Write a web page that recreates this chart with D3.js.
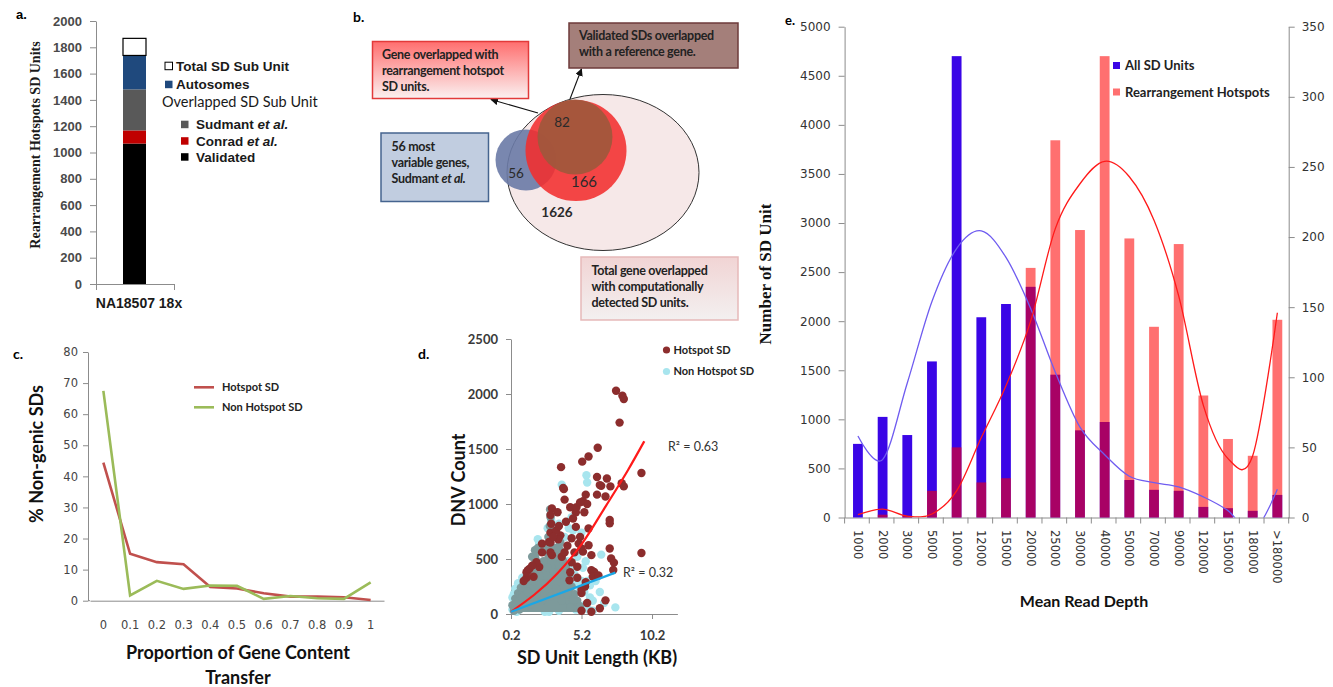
<!DOCTYPE html>
<html>
<head>
<meta charset="utf-8">
<script src="https://cdn.jsdelivr.net/npm/d3@7"></script>
<style>
  body { margin: 0; background: #fff; }
  svg { display: block; font-family: Lato, sans-serif; }
</style>
</head>
<body>
<svg width="1333" height="687"></svg>
<script>
var svg = d3.select("svg");

// ---- panel a data
var sampleNames = ["NA18507 18x"];
var stackLabels = ["Validated", "Conrad et al.", "Sudmant et al.", "Autosomes", "Total SD Sub Unit"];
var stackValues = [1068, 100, 312, 258, 130];
var stackColors = ["#000000", "#c00000", "#595959", "#1f497d", "#ffffff"];

// ---- panel b data
var vennCounts = [82, 56, 166, 1626];

// ---- panel c data
var transferCats = ["0", "0.1", "0.2", "0.3", "0.4", "0.5", "0.6", "0.7", "0.8", "0.9", "1"];
var hotspotPct = [44.4, 15.1, 12.4, 11.7, 4.4, 3.9, 2.4, 1.3, 1.3, 1.1, 0.2];
var nonHotspotPct = [67.5, 1.7, 6.4, 3.8, 4.9, 4.8, 0.6, 1.5, 0.8, 0.6, 5.9];

// ---- panel d data (SD unit length KB, DNV count)
var hotspotPts = [[7.65,2030],[8.1,1985],[8.2,1955],[7.9,1740],[6.35,1512],[5.7,1432],[5.25,1385],[3.75,1335],
  [9.45,1282],[8.05,1188],[6.3,1245],[7.0,1232],[7.25,1160],[8.2,1160],[6.6,1165],[3.9,1145],[3.95,1135],
  [6.3,1085],[6.9,1068],[5.5,1085],[5.3,1025],[5.6,1000],[4.8,925],[5.4,925],[4.0,1040],[3.1,960],[4.1,838],
  [4.8,792],[5.7,778],[5.7,625],[5.2,595],[4.5,688],[3.7,715],[2.9,655],[2.4,640],[3.1,535],[3.8,520],[5.9,535],
  [7.2,595],[7.3,505],[5.9,398],[6.1,383],[6.9,124],[5.9,20],[5.2,190],[5.45,250],[9.45,555],[1.4,398],[1.8,338],
  [2.2,428],[4.35,306],[4.6,868],[3.5,925],[4.4,970],[4.85,972],[5.1,1015],[7.2,855],[7.2,825],[6.5,1172],
  [5.3,567],[6.0,340],[6.4,350],[5.2,220],[6.5,52],[5.2,30],[7.45,400],[7.5,467],[3.0,560],[3.0,650],
  [3.0,740],[3.05,820],[3.0,900],[3.55,680],[4.0,560],[4.2,620],[4.5,470],[4.9,430],[5.0,640],
  [5.1,700],[4.7,560],[2.0,470],[1.3,330],[1.1,300],[4.4,380],
  [4.9,330],[5.5,290],[5.6,100],[1.3,380],[1.5,410],[1.7,440],[2.4,560],
  [3.4,760],[3.6,800],[3.2,700]];
var nonHotspotPts = [[5.55,1262],[5.6,1195],[3.8,1175],[3.0,900],[3.05,850],[3.1,790],[4.5,880],[4.3,780],
  [4.6,760],[3.6,820],[5.2,740],[6.6,540],[7.6,60],[4.0,700],[5.5,480],[5.3,420],[4.9,520],[4.2,480],[6.2,300],
  [6.5,200],[5.8,150],[5.4,80],[4.8,40],[6.0,30],[3.6,30],[2.6,20],[3.2,120],[4.0,250],[4.6,300],[3.9,150],
  [2.8,350],[2.5,320],[1.2,60],[0.8,120],[0.5,80],[0.4,180],[1.0,250],[1.7,110],[2.2,60],[3.4,280],[4.3,90],
  [5.0,200],[5.2,300],[6.8,100],[2.0,300],[1.5,220],[0.3,40],[0.6,20],[2.9,20],[4.4,180],[0.3,150],[0.5,230],
  [0.7,280],[1.0,330],[5.4,200],[5.6,300],[5.8,260],[6.0,120],[5.7,40],[4.9,280],[4.7,360],[4.4,420],[2.2,640],
  [2.6,600],[2.8,780],[2.1,680]];
// dense overlapping cloud near the origin: upper edge of the cloud
var denseEdge = [[0.2,0],[0.3,80],[0.5,140],[0.7,190],[0.9,240],[1.1,280],[1.3,320],[1.5,400],[1.7,520],
  [1.9,580],[2.1,600],[2.3,450],[2.5,480],[2.7,600],[2.85,700],[2.97,950],[3.1,720],[3.3,600],[3.5,700],
  [3.7,650],[3.9,560],[4.1,420],[4.3,350],[4.5,250],[4.7,180],[4.9,120],[5.1,70],[5.2,0]];
var densePts = [[0.4,30],[0.6,90],[0.8,40],[1.0,150],[1.2,60],[1.4,200],[1.6,90],[1.8,300],[2.0,180],
  [2.2,350],[2.4,120],[2.6,280],[2.8,420],[3.0,160],[3.2,380],[3.4,230],[3.6,450],[3.8,120],[4.0,300],
  [4.2,180],[4.4,60],[4.6,130],[2.95,800],[3.0,880],[3.6,600],[3.9,480]];
var hotspotFit = [[0.2,20],[3.5,370],[5.25,642],[6.9,976],[8.5,1309],[9.65,1570]];
var nonHotspotFit = [[0.2,20],[7.6,376]];
var rsqLabels = ["R\u00b2 = 0.63", "R\u00b2 = 0.32"];

// ---- panel e data
var depthCats = ["1000","2000","3000","5000","10000","12000","15000","20000","25000","30000","40000",
  "50000","70000","90000","120000","150000","180000",">180000"];
var allSdUnits = [750, 1025, 840, 1590, 4700, 2040, 2175, 2350, 1455, 888, 973, 382, 282, 272, 108, 95, 68, 230];
var hotspotUnits = [0, 2, 1, 19, 50, 25, 28, 178, 269, 205, 329, 199, 136, 195, 87, 56, 44, 141];
var allSdSmooth = [830, 590, 1370, 2200, 2740, 2920, 2650, 2130, 1480, 920, 640, 420, 355, 312, 210, 70, -150, 287];
var hotspotSmooth = [2, 6, 1, 2.5, 19, 57, 94, 140, 206, 238, 254, 243, 212, 158, 80, 42, 44, 146];

function styleAxis(g, color, font, size, weight, fill) {
  g.select(".domain").attr("stroke", color);
  g.selectAll(".tick line").attr("stroke", color);
  g.selectAll(".tick text").attr("font-family", font).attr("font-size", size)
    .attr("font-weight", weight).attr("fill", fill);
}

function etAl(sel, label) {
  var i = label.indexOf("et al.");
  if (i < 0) { sel.text(label); return; }
  sel.append("tspan").text(label.slice(0, i));
  sel.append("tspan").attr("font-style", "italic").text("et al.");
}

var defs = svg.append("defs");
var intFmt = d3.format("d");

// ================= panel a =================
var pa = svg.append("g");
var ay = d3.scaleLinear().domain([0, 2000]).range([284, 21]);
var ax = d3.scaleBand().domain(sampleNames).range([96, 174]);

pa.append("g").attr("transform", "translate(96,0)")
  .call(d3.axisLeft(ay).tickValues(d3.range(0, 2001, 200)).tickFormat(intFmt).tickSize(6).tickPadding(8).tickSizeOuter(0))
  .call(styleAxis, "#8c8c8c", "Liberation Sans", 13, "bold", "#4a4a4a");
pa.append("g").attr("transform", "translate(0,284)")
  .call(d3.axisBottom(d3.scaleLinear().domain([0, 1]).range([96, 174])).tickValues([0, 1]).tickFormat("").tickSize(6).tickSizeOuter(0))
  .call(styleAxis, "#8c8c8c", "Liberation Sans", 13, "bold", "#4a4a4a");

var cum = d3.cumsum(stackValues);
var barX = ax(sampleNames[0]) + ax.bandwidth() / 2 - 12;
pa.selectAll("rect.stk").data(stackValues).join("rect")
  .attr("class", "stk")
  .attr("x", barX).attr("width", 23)
  .attr("y", function(d, i) { return ay(cum[i]); })
  .attr("height", function(d, i) { return ay(cum[i] - d) - ay(cum[i]); })
  .attr("fill", function(d, i) { return stackColors[i]; })
  .attr("stroke", function(d, i) { return i == 4 ? "#000" : "none"; })
  .attr("stroke-width", 1.2);

pa.append("text").attr("x", ax(sampleNames[0]) + ax.bandwidth() / 2 + 4).attr("y", 303)
  .attr("dy", "0.35em").attr("text-anchor", "middle")
  .attr("font-family", "Liberation Sans").attr("font-weight", "bold").attr("font-size", 14).attr("fill", "#1a1a1a")
  .text(sampleNames[0]);

pa.append("text").attr("transform", "translate(35,145) rotate(-90)")
  .attr("text-anchor", "middle").attr("dy", "0.35em")
  .attr("font-family", "Liberation Serif").attr("font-weight", "bold").attr("font-size", 14).attr("fill", "#1a1a1a")
  .text("Rearrangement Hotspots SD Units");

pa.append("text").attr("x", 16).attr("y", 14).attr("dy", "0.35em")
  .attr("font-family", "Liberation Sans").attr("font-weight", "bold").attr("font-size", 13).text("a.");

// legend a
var legA = [
  { i: 4, x: 165, y: 66 },
  { i: 3, x: 165, y: 84.5 },
  { i: 2, x: 181, y: 124.5 },
  { i: 1, x: 181, y: 141 },
  { i: 0, x: 181, y: 157 }
];
legA.forEach(function(o) {
  pa.append("rect").attr("x", o.x).attr("y", o.y - 3.8).attr("width", 7.5).attr("height", 7.5)
    .attr("fill", stackColors[o.i]).attr("stroke", o.i == 4 ? "#000" : "none").attr("stroke-width", 1);
  var t = pa.append("text").attr("x", o.x + (o.i >= 3 ? 11 : 15)).attr("y", o.y).attr("dy", "0.35em")
    .attr("font-family", "Liberation Sans").attr("font-size", 13.5).attr("font-weight", "bold").attr("fill", "#1a1a1a");
  etAl(t, stackLabels[o.i]);
});
pa.append("text").attr("x", 162).attr("y", 102).attr("dy", "0.35em")
  .attr("font-size", 14.5).attr("fill", "#1a1a1a").text("Overlapped SD Sub Unit");

// ================= panel b =================
var pb = svg.append("g");
var gr1 = defs.append("linearGradient").attr("id", "gRed").attr("x1", 0).attr("y1", 0).attr("x2", 0).attr("y2", 1);
gr1.append("stop").attr("offset", "0%").attr("stop-color", "#ff6e6e");
gr1.append("stop").attr("offset", "100%").attr("stop-color", "#fbf1f1");
var gr2 = defs.append("linearGradient").attr("id", "gPink").attr("x1", 0).attr("y1", 0).attr("x2", 0).attr("y2", 1);
gr2.append("stop").attr("offset", "0%").attr("stop-color", "#f1d4d4");
gr2.append("stop").attr("offset", "100%").attr("stop-color", "#f3f0f0");
defs.append("marker").attr("id", "arr").attr("viewBox", "0 0 10 10").attr("refX", 9).attr("refY", 5)
  .attr("markerWidth", 7).attr("markerHeight", 7).attr("orient", "auto-start-reverse")
  .append("path").attr("d", "M0,0L10,5L0,10z").attr("fill", "#111");

pb.append("text").attr("x", 353).attr("y", 17).attr("dy", "0.35em")
  .attr("font-weight", "bold").attr("font-size", 14).text("b.");

pb.append("ellipse").attr("cx", 603).attr("cy", 172.5).attr("rx", 96).attr("ry", 78)
  .attr("fill", "#f6e8e8").attr("stroke", "#333").attr("stroke-width", 1);
pb.append("circle").attr("cx", 526).attr("cy", 160).attr("r", 30.5)
  .attr("fill", "#6a7aa6").attr("fill-opacity", 0.9);
pb.append("circle").attr("cx", 576).attr("cy", 150.5).attr("r", 50.5)
  .attr("fill", "#f22e2e").attr("fill-opacity", 0.88);
pb.append("circle").attr("cx", 575).attr("cy", 137).attr("r", 37.5)
  .attr("fill", "#a0583c").attr("fill-opacity", 0.92);

var vennPos = [[562, 122], [516, 173], [584, 182], [557, 212]];
pb.selectAll("text.vc").data(vennCounts).join("text").attr("class", "vc")
  .attr("x", function(d, i) { return vennPos[i][0]; })
  .attr("y", function(d, i) { return vennPos[i][1]; })
  .attr("dy", "0.35em").attr("text-anchor", "middle")
  .attr("font-size", function(d, i) { return i == 2 ? 15 : 13.5; })
  .attr("font-weight", function(d, i) { return i == 3 ? "bold" : "normal"; })
  .attr("fill", "#2a2a2a")
  .text(function(d) { return d; });

pb.append("line").attr("x1", 538).attr("y1", 113).attr("x2", 491).attr("y2", 99.5)
  .attr("stroke", "#111").attr("stroke-width", 1.1).attr("marker-end", "url(#arr)");
pb.append("line").attr("x1", 570).attr("y1", 99).attr("x2", 581.5).attr("y2", 69)
  .attr("stroke", "#111").attr("stroke-width", 1.1).attr("marker-end", "url(#arr)");

var boxes = [
  { x: 372.5, y: 41.5, w: 156, h: 57, fill: "url(#gRed)", stroke: "#e23a3a", tx: 382, ty: 55,
    lines: ["Gene overlapped  with", "rearrangement hotspot", "SD units."] },
  { x: 569, y: 23, w: 169, h: 45, fill: "#a47f7a", stroke: "#6e3b3b", tx: 579, ty: 36,
    lines: ["Validated SDs overlapped", "with a reference gene."] },
  { x: 381, y: 133, w: 107.5, h: 68.5, fill: "#c1cde0", stroke: "#45648f", tx: 391.5, ty: 147,
    lines: ["56 most", "variable genes,", "Sudmant et al."] },
  { x: 581, y: 257, w: 157, h: 63, fill: "url(#gPink)", stroke: "#e6b9b9", tx: 591.5, ty: 271,
    lines: ["Total gene overlapped", "with computationally", "detected SD units."] }
];
boxes.forEach(function(b) {
  pb.append("rect").attr("x", b.x).attr("y", b.y).attr("width", b.w).attr("height", b.h)
    .attr("fill", b.fill).attr("stroke", b.stroke).attr("stroke-width", 1.5);
  b.lines.forEach(function(l, k) {
    var t = pb.append("text").attr("x", b.tx).attr("y", b.ty + k * 16).attr("dy", "0.35em")
      .attr("font-size", 12.5).attr("font-weight", "bold").attr("fill", "#222").attr("letter-spacing", -0.3);
    etAl(t, l);
  });
});

// ================= panel c =================
var pc = svg.append("g");
var cx = d3.scaleBand().domain(transferCats).range([90, 384]);
var cy = d3.scaleLinear().domain([0, 80]).range([600.7, 352]);
pc.append("g").attr("transform", "translate(88,0)")
  .call(d3.axisLeft(cy).tickValues(d3.range(0, 81, 10)).tickSize(5).tickPadding(5).tickSizeOuter(0))
  .call(styleAxis, "#8c8c8c", "DejaVu Sans", 11.5, "normal", "#444");
pc.append("g").attr("transform", "translate(0,600.7)")
  .call(d3.axisBottom(cx).tickSize(0).tickPadding(20).tickSizeOuter(0))
  .call(styleAxis, "#8c8c8c", "DejaVu Sans", 11.5, "normal", "#444");
pc.append("line").attr("x1", 88).attr("x2", 90).attr("y1", 600.7).attr("y2", 600.7).attr("stroke", "#8c8c8c");

var cline = d3.line()
  .x(function(d, i) { return cx(transferCats[i]) + cx.bandwidth() / 2; })
  .y(function(d) { return cy(d); });
pc.append("path").attr("d", cline(hotspotPct)).attr("fill", "none").attr("stroke", "#c0504d").attr("stroke-width", 2.6);
pc.append("path").attr("d", cline(nonHotspotPct)).attr("fill", "none").attr("stroke", "#9bbb59").attr("stroke-width", 2.6);

[["Hotspot SD", "#c0504d", 387.3], ["Non Hotspot SD", "#9bbb59", 407.3]].forEach(function(l) {
  pc.append("line").attr("x1", 194).attr("x2", 214).attr("y1", l[2]).attr("y2", l[2])
    .attr("stroke", l[1]).attr("stroke-width", 2.6);
  pc.append("text").attr("x", 222).attr("y", l[2]).attr("dy", "0.35em")
    .attr("font-size", 11).attr("font-weight", "bold").attr("fill", "#222").text(l[0]);
});

pc.append("text").attr("transform", "translate(37,454) rotate(-90)").attr("text-anchor", "middle").attr("dy", "0.35em")
  .attr("font-size", 18).attr("font-weight", "bold").attr("fill", "#111").text("% Non-genic SDs");
pc.append("text").attr("x", 238).attr("y", 653).attr("text-anchor", "middle").attr("dy", "0.35em")
  .attr("font-size", 18).attr("font-weight", "bold").attr("fill", "#111").text("Proportion of Gene Content");
pc.append("text").attr("x", 238).attr("y", 678).attr("text-anchor", "middle").attr("dy", "0.35em")
  .attr("font-size", 18).attr("font-weight", "bold").attr("fill", "#111").text("Transfer");
pc.append("text").attr("x", 13).attr("y", 354).attr("dy", "0.35em")
  .attr("font-weight", "bold").attr("font-size", 14).text("c.");

// ================= panel d =================
var pd = svg.append("g");
var dx = d3.scaleLinear().domain([0.2, 12]).range([511, 677.4]);
var dy = d3.scaleLinear().domain([0, 2500]).range([614, 339]);
pd.append("g").attr("transform", "translate(511,0)")
  .call(d3.axisLeft(dy).tickValues(d3.range(0, 2501, 500)).tickFormat(intFmt).tickSize(5).tickPadding(8).tickSizeOuter(0))
  .call(styleAxis, "#8c8c8c", "Lato", 13, "bold", "#3a3a3a");
pd.append("g").attr("transform", "translate(0,614)")
  .call(d3.axisBottom(dx).tickValues([0.2, 5.2, 10.2]).tickFormat(d3.format(".1f")).tickSize(5).tickPadding(12).tickSizeOuter(0))
  .call(styleAxis, "#8c8c8c", "Lato", 13, "bold", "#3a3a3a");

function dots(pts, color, r) {
  pd.append("g").selectAll("circle").data(pts).join("circle")
    .attr("cx", function(d) { return dx(d[0]); })
    .attr("cy", function(d) { return dy(d[1]); })
    .attr("r", r).attr("fill", color);
}
dots(nonHotspotPts, "#a8e5ee", 4.2);
pd.append("path")
  .attr("d", d3.area().x(function(d) { return dx(d[0]); }).y0(dy(0) - 2).y1(function(d) { return dy(d[1]); })(denseEdge))
  .attr("fill", "#7d9a9b");
dots(denseEdge.slice(1, -1), "#7d9a9b", 4.2);
dots(densePts, "#7d9a9b", 4.2);
dots(hotspotPts, "#8c2d2d", 4.2);

var fitLine = d3.line().x(function(d) { return dx(d[0]); }).y(function(d) { return dy(d[1]); }).curve(d3.curveMonotoneX);
pd.append("path").attr("d", fitLine(hotspotFit)).attr("fill", "none").attr("stroke", "#ff1a1a").attr("stroke-width", 2.2);
pd.append("path").attr("d", fitLine(nonHotspotFit)).attr("fill", "none").attr("stroke", "#1aa7e6").attr("stroke-width", 2.2);

pd.append("text").attr("x", 668).attr("y", 447).attr("dy", "0.35em").attr("font-size", 12.5).attr("fill", "#333").text(rsqLabels[0]);
pd.append("text").attr("x", 623).attr("y", 573).attr("dy", "0.35em").attr("font-size", 12.5).attr("fill", "#333").text(rsqLabels[1]);

[["Hotspot SD", "#8c2d2d", 350], ["Non Hotspot SD", "#a8e5ee", 371.5]].forEach(function(l) {
  pd.append("circle").attr("cx", 666.5).attr("cy", l[2]).attr("r", 3.6).attr("fill", l[1]);
  pd.append("text").attr("x", 673.5).attr("y", l[2]).attr("dy", "0.35em")
    .attr("font-size", 11).attr("font-weight", "bold").attr("fill", "#222").text(l[0]);
});
pd.append("text").attr("transform", "translate(459,480) rotate(-90)").attr("text-anchor", "middle").attr("dy", "0.35em")
  .attr("font-size", 18).attr("font-weight", "bold").attr("fill", "#111").text("DNV Count");
pd.append("text").attr("x", 597).attr("y", 658).attr("text-anchor", "middle").attr("dy", "0.35em")
  .attr("font-size", 18).attr("font-weight", "bold").attr("fill", "#111").text("SD Unit Length (KB)");
pd.append("text").attr("x", 418).attr("y", 354).attr("dy", "0.35em")
  .attr("font-weight", "bold").attr("font-size", 14).text("d.");

// ================= panel e =================
var pe = svg.append("g");
var ex = d3.scaleBand().domain(depthCats).range([844.6, 1288.7]);
var eyL = d3.scaleLinear().domain([0, 5000]).range([517.5, 26.7]);
var eyR = d3.scaleLinear().domain([0, 350]).range([517.5, 26.7]);

pe.append("g").attr("transform", "translate(844.6,0)")
  .call(d3.axisLeft(eyL).tickValues(d3.range(0, 5001, 500)).tickFormat(intFmt).tickSize(6).tickPadding(8).tickSizeOuter(0))
  .call(styleAxis, "#8c8c8c", "DejaVu Sans", 12, "normal", "#333");
pe.append("g").attr("transform", "translate(1288.7,0)")
  .call(d3.axisRight(eyR).tickValues(d3.range(0, 351, 50)).tickFormat(intFmt).tickSize(6).tickPadding(7).tickSizeOuter(0))
  .call(styleAxis, "#8c8c8c", "DejaVu Sans", 12, "normal", "#333");
pe.append("g").attr("transform", "translate(0,517.5)")
  .call(d3.axisBottom(ex).tickSize(0).tickFormat("").tickSizeOuter(0))
  .call(styleAxis, "#8c8c8c", "DejaVu Sans", 11.5, "normal", "#333");
// tick marks at band boundaries
pe.append("g").selectAll("line").data(depthCats.concat(["end"])).join("line")
  .attr("x1", function(d, i) { return ex.range()[0] + i * ex.step(); })
  .attr("x2", function(d, i) { return ex.range()[0] + i * ex.step(); })
  .attr("y1", 517.5).attr("y2", 523.5).attr("stroke", "#8c8c8c");
pe.append("g").selectAll("text").data(depthCats).join("text")
  .attr("transform", function(d) { return "translate(" + (ex(d) + ex.bandwidth() / 2 + 1) + ",530) rotate(90)"; })
  .attr("dy", "0.35em").attr("font-family", "DejaVu Sans").attr("font-size", 11.5).attr("fill", "#333")
  .text(function(d) { return d; });

var bw = 9.8;
function bx(d) { return ex(d) + ex.bandwidth() / 2 - bw / 2 + 1; }
pe.append("g").selectAll("rect").data(allSdUnits).join("rect")
  .attr("x", function(d, i) { return bx(depthCats[i]); }).attr("width", bw)
  .attr("y", function(d) { return eyL(d); }).attr("height", function(d) { return eyL(0) - eyL(d); })
  .attr("fill", "#3a05e6");
pe.append("g").selectAll("rect").data(hotspotUnits).join("rect")
  .attr("x", function(d, i) { return bx(depthCats[i]); }).attr("width", bw)
  .attr("y", function(d) { return eyR(d); }).attr("height", function(d) { return eyR(0) - eyR(d); })
  .attr("fill", "#ff0000").attr("fill-opacity", 0.56);

defs.append("clipPath").attr("id", "clipE").append("rect")
  .attr("x", 844.6).attr("y", 20).attr("width", 444.1).attr("height", 497.5);
var ecx = function(d, i) { return ex(depthCats[i]) + ex.bandwidth() / 2 + 1; };
pe.append("path").attr("clip-path", "url(#clipE)")
  .attr("d", d3.line().x(ecx).y(function(d) { return eyL(d); }).curve(d3.curveCatmullRom.alpha(0))(allSdSmooth))
  .attr("fill", "none").attr("stroke", "#6f5cf0").attr("stroke-width", 1.3);
pe.append("path").attr("clip-path", "url(#clipE)")
  .attr("d", d3.line().x(ecx).y(function(d) { return eyR(d); }).curve(d3.curveCatmullRom.alpha(0))(hotspotSmooth))
  .attr("fill", "none").attr("stroke", "#ff1a1a").attr("stroke-width", 1.3);

pe.append("rect").attr("x", 1113).attr("y", 62).attr("width", 7).attr("height", 7).attr("fill", "#3a05e6");
pe.append("rect").attr("x", 1113).attr("y", 88.5).attr("width", 7).attr("height", 7).attr("fill", "#ff0000").attr("fill-opacity", 0.56);
pe.append("text").attr("x", 1125).attr("y", 65.5).attr("dy", "0.35em").attr("font-size", 13).attr("font-weight", "bold").attr("fill", "#222").text("All SD Units");
pe.append("text").attr("x", 1125).attr("y", 92).attr("dy", "0.35em").attr("font-size", 13).attr("font-weight", "bold").attr("fill", "#222").text("Rearrangement Hotspots");

pe.append("text").attr("transform", "translate(765,274) rotate(-90)").attr("text-anchor", "middle").attr("dy", "0.35em")
  .attr("font-family", "Liberation Serif").attr("font-size", 17).attr("font-weight", "bold").attr("fill", "#111")
  .text("Number of SD Unit");
pe.append("text").attr("x", 1084).attr("y", 601).attr("text-anchor", "middle").attr("dy", "0.35em")
  .attr("font-size", 16).attr("font-weight", "bold").attr("fill", "#111").text("Mean Read Depth");
pe.append("text").attr("x", 785).attr("y", 20).attr("dy", "0.35em")
  .attr("font-weight", "bold").attr("font-size", 13).text("e.");
</script>
</body>
</html>
